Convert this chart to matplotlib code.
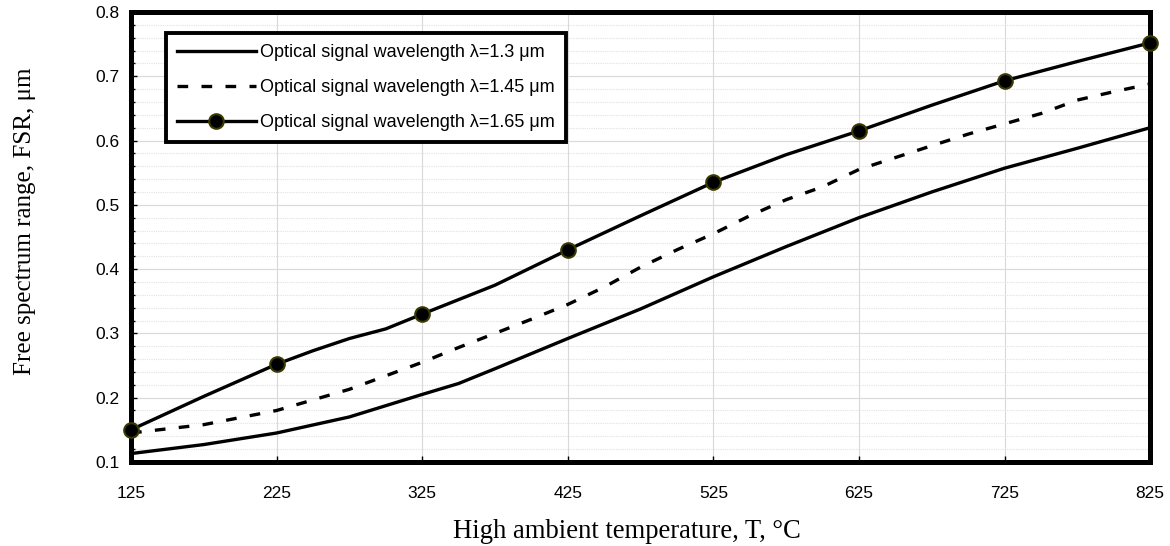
import matplotlib
matplotlib.use("Agg")
import matplotlib.pyplot as plt
from matplotlib.ticker import MultipleLocator, FixedLocator

# Temperature grid (°C) and free spectrum range (µm) for each wavelength
temp_13 = [125, 175, 225, 275, 325, 350, 375, 425, 475, 525, 575, 625, 675, 725, 775, 825]
fsr_13 = [0.113, 0.127, 0.145, 0.170, 0.205, 0.222, 0.245, 0.292, 0.338, 0.388, 0.435, 0.480, 0.520, 0.557, 0.588, 0.620]

temp_145 = [125, 175, 225, 275, 325, 350, 375, 400, 425, 450, 475, 500, 525, 550, 575, 600, 625, 675, 700, 725, 750, 775, 800, 825]
fsr_145 = [0.145, 0.158, 0.180, 0.213, 0.255, 0.278, 0.300, 0.322, 0.345, 0.372, 0.403, 0.430, 0.455, 0.483, 0.508, 0.528, 0.555, 0.592, 0.610, 0.626, 0.642, 0.663, 0.676, 0.688]

temp_165 = [125, 175, 225, 250, 275, 300, 325, 375, 425, 475, 525, 575, 625, 675, 725, 775, 825]
fsr_165 = [0.150, 0.202, 0.252, 0.273, 0.292, 0.307, 0.330, 0.375, 0.430, 0.483, 0.535, 0.578, 0.615, 0.655, 0.693, 0.723, 0.752]
marker_temps = [125, 225, 325, 425, 525, 625, 725, 825]

series_labels = [
    "Optical signal wavelength \u03bb=1.3 \u03bcm",
    "Optical signal wavelength \u03bb=1.45 \u03bcm",
    "Optical signal wavelength \u03bb=1.65 \u03bcm",
]

x_ticks = [125, 225, 325, 425, 525, 625, 725, 825]
y_ticks = [0.1, 0.2, 0.3, 0.4, 0.5, 0.6, 0.7, 0.8]

fig = plt.figure(figsize=(11.7, 5.46), dpi=100)
ax = fig.add_axes([0.112, 0.154, 0.871, 0.824])

lw = 2.4
ax.plot(temp_13, fsr_13, color="black", lw=lw, label=series_labels[0], zorder=3)
ax.plot(temp_145, fsr_145, color="black", lw=lw, linestyle=(0, (3.2, 4.0)),
        dash_capstyle="butt", label=series_labels[1], zorder=3)
mark_idx = [temp_165.index(t) for t in marker_temps]
ax.plot(temp_165, fsr_165, color="black", lw=lw, marker="o", markevery=mark_idx,
        markersize=10.5, markerfacecolor="black", markeredgecolor="#3a3a00",
        markeredgewidth=1.5, label=series_labels[2], zorder=4, clip_on=False)

ax.set_xlim(125, 825)
ax.set_ylim(0.1, 0.8)
ax.xaxis.set_major_locator(FixedLocator(x_ticks))
ax.yaxis.set_major_locator(FixedLocator(y_ticks))
ax.yaxis.set_minor_locator(MultipleLocator(0.02))
ax.set_xticklabels([str(t) for t in x_ticks])
ax.set_yticklabels([f"{v:.1f}" for v in y_ticks])

ax.grid(True, which="major", axis="both", color="#d9d9d9", lw=0.8, zorder=0)
ax.grid(True, which="minor", axis="y", color="#e2e2e2", lw=0.8, linestyle=(0, (1, 1)), zorder=0)

for s in ax.spines.values():
    s.set_linewidth(3.6)
    s.set_color("black")
    s.set_capstyle("projecting")

ax.tick_params(axis="both", which="major", direction="in", length=4, width=1,
               labelsize=12.5, pad=8)
ax.tick_params(axis="x", which="major", pad=17)
ax.tick_params(axis="y", which="minor", direction="in", length=3, width=1)
for lab in ax.get_xticklabels() + ax.get_yticklabels():
    lab.set_fontfamily("Liberation Sans")

ax.set_xlabel("High ambient temperature, T, \u00b0C", fontfamily="Liberation Serif",
              fontsize=19.2, labelpad=13)
ax.xaxis.label.set_x(0.487)
ax.set_ylabel("Free spectrum range, FSR, \u03bcm", fontfamily="Liberation Serif",
              fontsize=18, labelpad=43)
ax.yaxis.label.set_y(0.536)

leg = ax.legend(loc="upper left", bbox_to_anchor=(0.034, 0.953), frameon=True,
                fancybox=False, edgecolor="black", framealpha=1,
                prop={"family": "Liberation Sans", "size": 13},
                handlelength=4.4, handletextpad=0.25, borderpad=0.6,
                labelspacing=1.0, borderaxespad=0)
leg.get_frame().set_linewidth(2.8)

fig.savefig("out.png", dpi=100)
